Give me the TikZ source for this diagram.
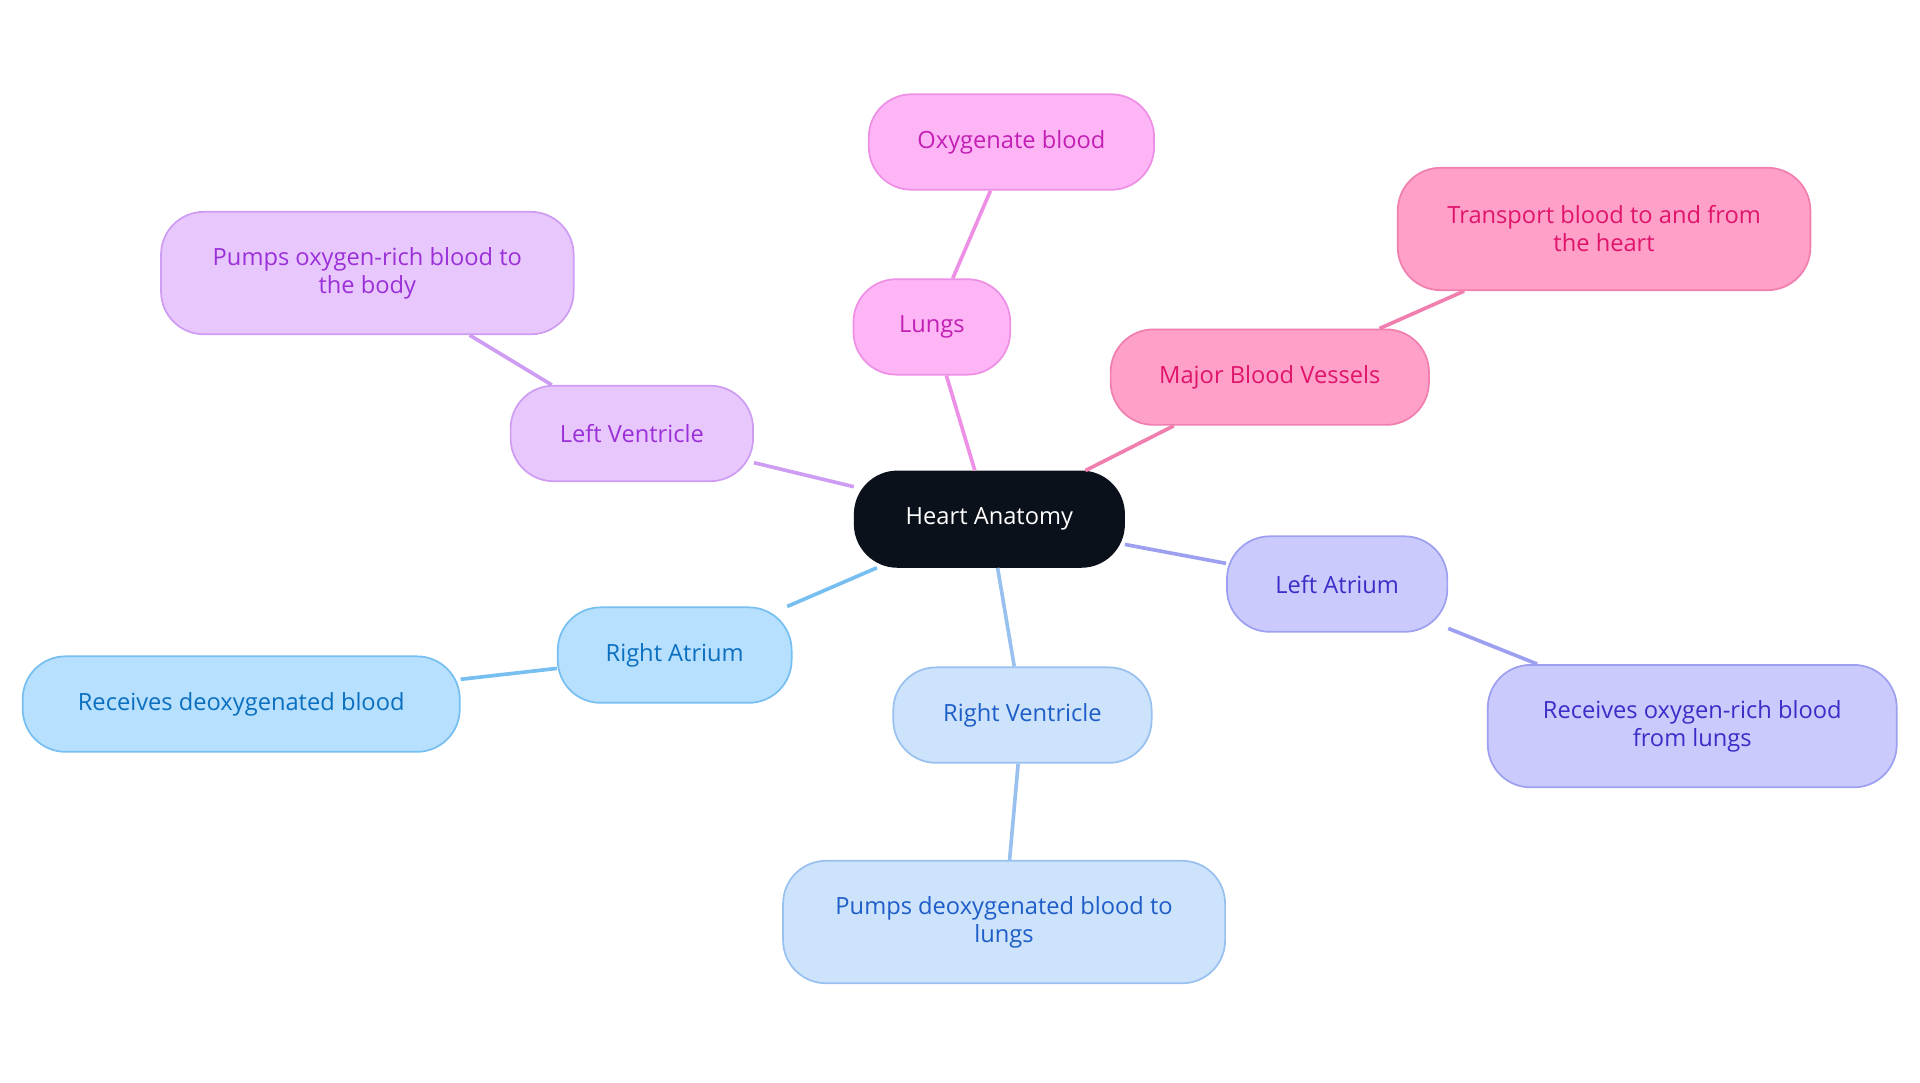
\documentclass[tikz,border=0pt]{standalone}
\usepackage{fontspec}
\setmainfont{Open Sans}
\usetikzlibrary{positioning}
\definecolor{heartfill}{HTML}{0B111A}
\definecolor{lungfill}{HTML}{FDB5F5}\definecolor{lungline}{HTML}{EE8FE6}\definecolor{lungtext}{HTML}{C21FB5}
\definecolor{vesfill}{HTML}{FFA0C8}\definecolor{vesline}{HTML}{F07FB0}\definecolor{vestext}{HTML}{E0146B}
\definecolor{lvfill}{HTML}{E8C8FC}\definecolor{lvline}{HTML}{CE9CF2}\definecolor{lvtext}{HTML}{9B30D9}
\definecolor{lafill}{HTML}{CACBFC}\definecolor{laline}{HTML}{9D9FF0}\definecolor{latext}{HTML}{3A2DC8}
\definecolor{rafill}{HTML}{B6E0FD}\definecolor{raline}{HTML}{76BFF0}\definecolor{ratext}{HTML}{0B6FC0}
\definecolor{rvfill}{HTML}{CDE2FB}\definecolor{rvline}{HTML}{98C1F0}\definecolor{rvtext}{HTML}{1E5EC8}
\tikzset{
    bubble/.style={
        rectangle, rounded corners=0.7cm, draw, line width=0.8pt,
        align=center, font=\fontsize{11}{13}\selectfont, inner sep=0pt
    },
    part/.style 2 args={bubble, fill=#1fill, draw=#1line, text=#1text,
        minimum width=#2*0.02cm, minimum height=1.56cm},
    leaf/.style 2 args={part={#1}{#2}},
    link/.style={line width=1.7pt, draw=#1line}
}
\begin{document}
\begin{tikzpicture}[x=0.02cm, y=-0.02cm]
    \useasboundingbox (0,0) rectangle (1568,884);

    \node[bubble, fill=heartfill, draw=heartfill, text=white,
          minimum width=4.4cm, minimum height=1.56cm] (heart) at (808,424) {Heart Anatomy};

    \node[part={lung}{128}] (lungs) at (761,267) {Lungs};
    \node[leaf={lung}{233}] (lungs_leaf) at (826,116) {Oxygenate blood};

    \node[part={ves}{260}] (vessels) at (1037,308) {Major Blood Vessels};
    \node[leaf={ves}{337}, minimum height=2cm] (vessels_leaf) at (1310,187) {Transport blood to and from\\the heart};

    \node[part={lv}{198}] (lv) at (516,354) {Left Ventricle};
    \node[leaf={lv}{337}, minimum height=2cm] (lv_leaf) at (300,223) {Pumps oxygen-rich blood to\\the body};

    \node[part={la}{180}] (la) at (1092,477) {Left Atrium};
    \node[leaf={la}{334}, minimum height=2cm] (la_leaf) at (1382,593) {Receives oxygen-rich blood\\from lungs};

    \node[part={ra}{191}] (ra) at (551,535) {Right Atrium};
    \node[leaf={ra}{357}] (ra_leaf) at (197,575) {Receives deoxygenated blood};

    \node[part={rv}{211}] (rv) at (835,584) {Right Ventricle};
    \node[leaf={rv}{361}, minimum height=2cm] (rv_leaf) at (820,753) {Pumps deoxygenated blood to\\lungs};

    \begin{scope}[on background layer/.style={}]
    \foreach \a/\b/\c in {heart/lungs/lung, lungs/lungs_leaf/lung,
                          heart/vessels/ves, vessels/vessels_leaf/ves,
                          heart/lv/lv, lv/lv_leaf/lv,
                          heart/la/la, la/la_leaf/la,
                          heart/ra/ra, ra/ra_leaf/ra,
                          heart/rv/rv, rv/rv_leaf/rv}
        \draw[link=\c] (\a) -- (\b);
    \end{scope}
\end{tikzpicture}
\end{document}
